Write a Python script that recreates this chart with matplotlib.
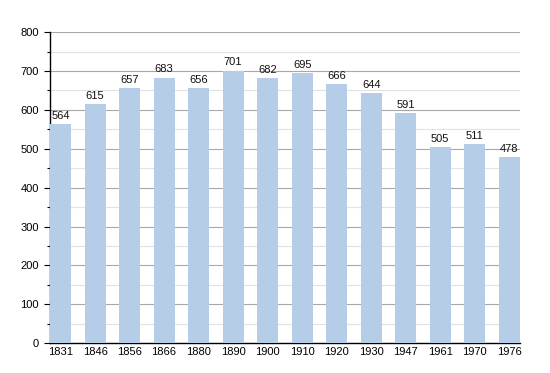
import matplotlib.pyplot as plt
from matplotlib.ticker import MultipleLocator

years = ['1831', '1846', '1856', '1866', '1880', '1890', '1900',
         '1910', '1920', '1930', '1947', '1961', '1970', '1976']
population = [564, 615, 657, 683, 656, 701, 682, 695, 666, 644, 591, 505, 511, 478]

plt.rcParams['font.family'] = ['Liberation Sans', 'DejaVu Sans']

fig = plt.figure(figsize=(5.5, 3.73), dpi=100)
ax = fig.add_axes([0.0909, 0.080, 0.8545, 0.834])

x = list(range(len(years)))
bars = ax.bar(x, population, width=0.61, color='#b5cde7', zorder=3)
for xi, v in zip(x, population):
    ax.text(xi, v + 8, str(v), ha='center', va='bottom', fontsize=8, color='#111111', zorder=4)

ax.set_xlim(-0.305, 13.31)
ax.set_ylim(0, 800)
ax.yaxis.set_major_locator(MultipleLocator(100))
ax.yaxis.set_minor_locator(MultipleLocator(50))
ax.grid(axis='y', which='major', color='#a8a8a8', linewidth=0.8, zorder=1)
ax.grid(axis='y', which='minor', color='#e2e2e2', linewidth=0.8, zorder=1)

ax.set_xticks(x)
ax.set_xticklabels(years)
ax.tick_params(axis='x', length=0, labelsize=8, pad=3)
ax.tick_params(axis='y', which='major', length=4, width=0.8, labelsize=8, pad=4)
ax.tick_params(axis='y', which='minor', length=2.5, width=0.8)

for s in ['top', 'right']:
    ax.spines[s].set_visible(False)
ax.spines['left'].set_linewidth(1.0)
ax.spines['bottom'].set_linewidth(1.0)

fig.savefig('out.png', dpi=100)
